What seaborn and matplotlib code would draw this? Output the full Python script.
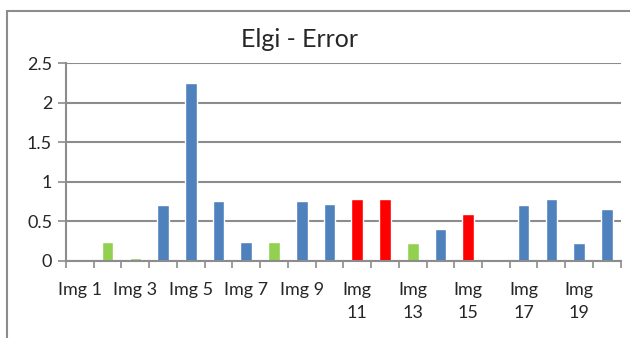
import matplotlib
matplotlib.use("Agg")
import matplotlib.pyplot as plt
from matplotlib.patches import Rectangle
import seaborn as sns
import pandas as pd

# Error per image
images = [f"Img {i}" for i in range(1, 21)]
errors = [0.0, 0.24, 0.03, 0.70, 2.25, 0.75, 0.24, 0.24, 0.75, 0.72,
          0.78, 0.78, 0.22, 0.40, 0.59, 0.02, 0.70, 0.78, 0.22, 0.65]
status = ["blue", "green", "green", "blue", "blue", "blue", "blue", "green", "blue", "blue",
          "red", "red", "green", "blue", "red", "blue", "blue", "blue", "blue", "blue"]
status_colors = {"blue": "#4F81BD", "green": "#92D050", "red": "#FF0000"}

# Axis labels: every other image, two-digit numbers wrapped
tick_labels = [("Img\n" + str(i)) if i >= 10 else f"Img {i}" for i in range(1, 21, 2)]

df = pd.DataFrame({"image": images, "error": errors, "status": status})

sns.set_theme(style="white")
plt.rcParams["font.family"] = ["Lato", "DejaVu Sans"]

fig = plt.figure(figsize=(6.3, 3.38), dpi=100)
ax = fig.add_axes([0.1048, 0.2287, 0.8804, 0.584])

palette = [status_colors[s] for s in status]
sns.barplot(data=df, x="image", y="error", hue="image", palette=palette,
            legend=False, width=0.42, ax=ax, saturation=1)

grid_col = "#8C8C8C"
ax.set_ylim(0, 2.5)
ax.set_xlim(-0.5, 19.5)
ax.set_yticks([0, 0.5, 1, 1.5, 2, 2.5])
ax.set_yticklabels(["0", "0.5", "1", "1.5", "2", "2.5"], fontsize=13)
ax.yaxis.grid(True, color=grid_col, linewidth=1.5)
ax.set_axisbelow(True)

# Category boundary ticks below the axis, labels under odd images
ax.set_xticks([i - 0.5 for i in range(21)], minor=False)
ax.set_xticklabels([])
ax.set_xticks(list(range(0, 20, 2)), minor=True)
ax.set_xticklabels(tick_labels, minor=True, fontsize=13, va="top", linespacing=1.6)
ax.tick_params(axis="x", which="major", direction="out", length=5, width=1.2,
               color=grid_col, bottom=True)
ax.tick_params(axis="x", which="minor", length=0, pad=15)
ax.tick_params(axis="y", direction="out", length=6, width=1.2, color=grid_col,
               left=True, pad=4)

for side in ["top", "right"]:
    ax.spines[side].set_visible(False)
for side in ["left", "bottom"]:
    ax.spines[side].set_color(grid_col)
    ax.spines[side].set_linewidth(1.5)
ax.set_xlabel("")
ax.set_ylabel("")

fig.text(0.476, 0.882, "Elgi - Error", ha="center", va="center", fontsize=18)

# Chart area frame
fig.add_artist(Rectangle((7 / 630, -0.2), 1.5, 1.2 - 11 / 338,
                         transform=fig.transFigure, fill=False,
                         edgecolor=grid_col, linewidth=1.5, clip_on=False))

fig.savefig("out.png", dpi=100)
